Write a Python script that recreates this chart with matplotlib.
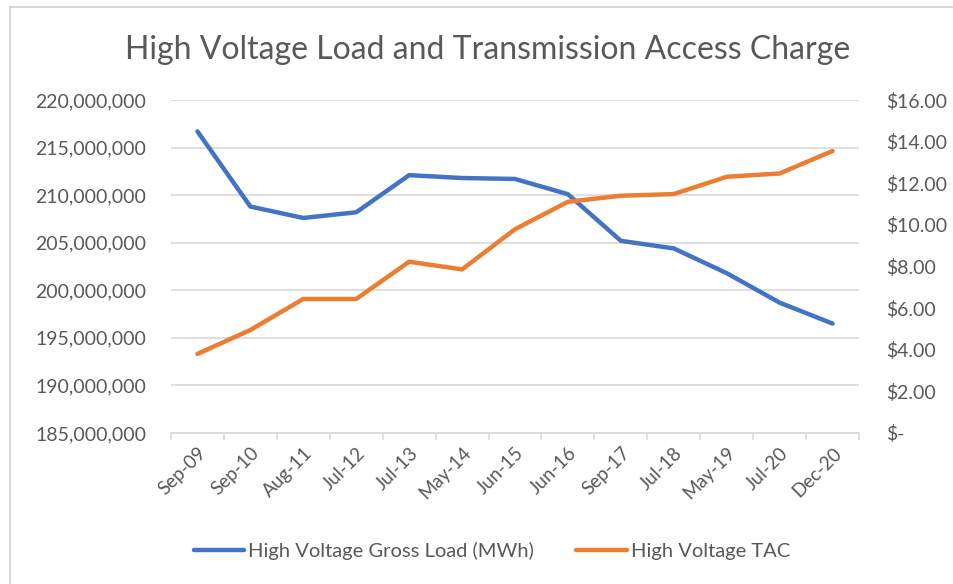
import matplotlib
matplotlib.use("Agg")
import matplotlib.pyplot as plt
from matplotlib.ticker import FuncFormatter, FixedLocator
from matplotlib.patches import Rectangle

categories = ["Sep-09", "Sep-10", "Aug-11", "Jul-12", "Jul-13", "May-14", "Jun-15",
              "Jun-16", "Sep-17", "Jul-18", "May-19", "Jul-20", "Dec-20"]
gross_load = [216.7e6, 208.8e6, 207.6e6, 208.2e6, 212.1e6, 211.8e6, 211.7e6,
              210.1e6, 205.2e6, 204.4e6, 201.8e6, 198.7e6, 196.5e6]
tac = [3.80, 4.95, 6.44, 6.44, 8.23, 7.86, 9.79, 11.11, 11.40, 11.48, 12.31, 12.47, 13.55]

BLUE = "#4472C4"
ORANGE = "#ED7D31"
TXT = "#595959"
GRID = "#D9D9D9"
FONT = "Lato"

plt.rcParams["font.family"] = [FONT, "DejaVu Sans"]

fig = plt.figure(figsize=(9.54, 5.84), dpi=100)
fig.patches.append(Rectangle((10 / 954, -0.1), 2, 1 - 7 / 584 + 0.1, transform=fig.transFigure,
                             fill=False, edgecolor="#D0D0D0", linewidth=1.2))

ax = fig.add_axes([171 / 954, 1 - 433 / 584, (859 - 171) / 954, (433 - 100) / 584])
ax2 = ax.twinx()

x = list(range(len(categories)))
l1, = ax.plot(x, gross_load, color=BLUE, lw=3.2, solid_capstyle="round", zorder=3,
              label="High Voltage Gross Load (MWh)")
l2, = ax2.plot(x, tac, color=ORANGE, lw=3.2, solid_capstyle="round", zorder=3,
               label="High Voltage TAC")

ax.set_xlim(-0.5, len(categories) - 0.5)
ax.set_ylim(185e6, 220e6)
ax.set_yticks([185e6 + 5e6 * i for i in range(8)])
ax.yaxis.set_major_formatter(FuncFormatter(lambda v, p: f"{v:,.0f}"))
ax2.set_ylim(0, 16)
ax2.set_yticks([2 * i for i in range(9)])
ax2.yaxis.set_major_formatter(FuncFormatter(lambda v, p: "$-" if v == 0 else f"${v:,.2f}"))

ax.grid(axis="y", color=GRID, lw=1.2, zorder=0)
ax.set_axisbelow(True)
for a in (ax, ax2):
    for s in a.spines.values():
        s.set_visible(False)
ax.spines["bottom"].set_visible(True)
ax.spines["bottom"].set_color(GRID)
ax.spines["bottom"].set_linewidth(1.2)

ax.set_xticks(x)
ax.set_xticklabels(categories, rotation=45, ha="right", va="top", rotation_mode="anchor",
                   fontsize=13.5, color=TXT)
ax.tick_params(axis="x", which="major", length=0, pad=8)
ax.xaxis.set_minor_locator(FixedLocator([i - 0.5 for i in range(len(categories) + 1)]))
ax.tick_params(axis="x", which="minor", length=5, color=GRID, width=1.2)

ax.tick_params(axis="y", length=0, pad=18, labelsize=14, labelcolor=TXT)
ax2.tick_params(axis="y", length=0, pad=19.5, labelsize=14, labelcolor=TXT)

fig.text(488 / 954, 1 - 50 / 584, "High Voltage Load and Transmission Access Charge",
         ha="center", va="center", fontsize=23, color=TXT)

fig.legend(handles=[l1, l2], loc="center", bbox_to_anchor=(492 / 954, 1 - 551 / 584),
           ncol=2, frameon=False, fontsize=14.5, labelcolor=TXT, handlelength=2.5,
           handletextpad=0.2, columnspacing=2.1)

fig.savefig("out.png", dpi=100)
